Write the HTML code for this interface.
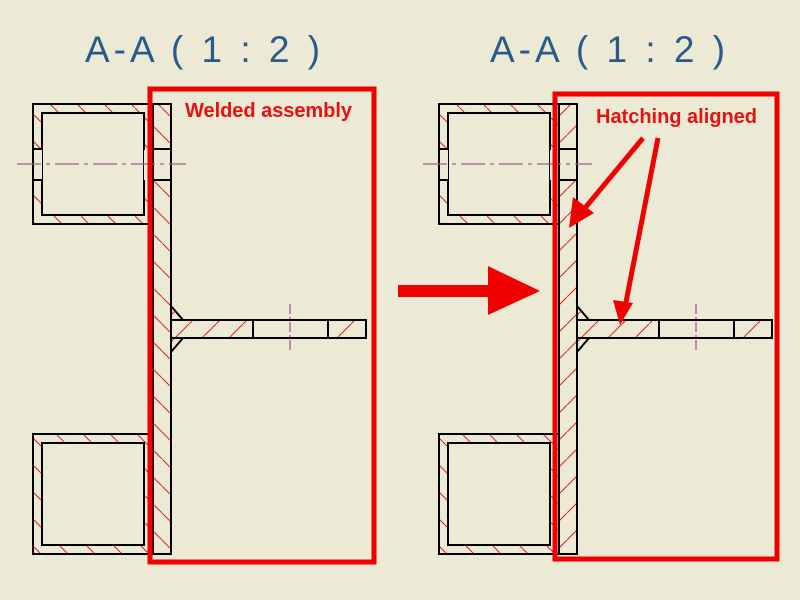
<!DOCTYPE html>
<html><head><meta charset="utf-8"><style>
html,body{margin:0;padding:0;background:#ecead5;}
svg{display:block}
</style></head><body>
<svg width="800" height="600" viewBox="0 0 800 600" xmlns="http://www.w3.org/2000/svg">
<defs>
<pattern id="hb" patternUnits="userSpaceOnUse" width="27" height="27">
<line x1="0" y1="0" x2="27" y2="27" stroke="#e02020" stroke-width="1"/>
</pattern>
<pattern id="hf" patternUnits="userSpaceOnUse" width="27" height="27">
<line x1="0" y1="27" x2="27" y2="0" stroke="#e02020" stroke-width="1"/>
</pattern>
<g id="view">
<path d="M33 104 H153 V224 H33 Z M42 113 V215 H144 V113 Z" fill="url(#hb)" fill-rule="evenodd"/>
<rect x="33" y="104" width="120" height="120" fill="none" stroke="#000" stroke-width="2"/>
<rect x="42" y="113" width="102" height="102" fill="none" stroke="#000" stroke-width="2"/>
<rect x="34" y="150" width="8" height="30" fill="#ecead5"/>
<rect x="144" y="150" width="8" height="30" fill="#ecead5"/>
<line x1="33" y1="149" x2="42" y2="149" stroke="#000" stroke-width="2"/>
<line x1="33" y1="180" x2="42" y2="180" stroke="#000" stroke-width="2"/>
<path d="M33 434 H153 V554 H33 Z M42 443 V545 H144 V443 Z" fill="url(#hb)" fill-rule="evenodd"/>
<rect x="33" y="434" width="120" height="120" fill="none" stroke="#000" stroke-width="2"/>
<rect x="42" y="443" width="102" height="102" fill="none" stroke="#000" stroke-width="2"/>
<path d="M171 306 L183 320 M171 352 L183 338" stroke="#000" stroke-width="2" fill="none"/>
<path d="M171 306 L183 320 L171 320 Z M171 352 L183 338 L171 338 Z" fill="url(#hf)"/>
<rect x="171" y="320" width="82" height="18" fill="url(#hf)"/>
<rect x="328" y="320" width="38" height="18" fill="url(#hf)"/>
<rect x="171" y="320" width="195" height="18" fill="none" stroke="#000" stroke-width="2"/>
<line x1="253" y1="320" x2="253" y2="338" stroke="#000" stroke-width="2"/>
<line x1="328" y1="320" x2="328" y2="338" stroke="#000" stroke-width="2"/>
<line x1="290" y1="304" x2="290" y2="353" stroke="#8a2a8a" stroke-width="1" stroke-dasharray="10,3,2,3"/>
</g>
</defs>

<text x="85" y="62" font-family="Liberation Sans, sans-serif" font-size="37" fill="#2a5a8a" letter-spacing="4">A-A ( 1 : 2 )</text>
<text x="490" y="62" font-family="Liberation Sans, sans-serif" font-size="37" fill="#2a5a8a" letter-spacing="4">A-A ( 1 : 2 )</text>

<use href="#view"/>
<rect x="153" y="104" width="18" height="450" fill="url(#hb)"/>
<rect x="153" y="104" width="18" height="450" fill="none" stroke="#000" stroke-width="2"/>
<line x1="153" y1="149" x2="171" y2="149" stroke="#000" stroke-width="2"/>
<line x1="153" y1="180" x2="171" y2="180" stroke="#000" stroke-width="2"/>

<g transform="translate(406,0)"><use href="#view"/></g>
<rect x="559" y="104" width="18" height="450" fill="url(#hf)"/>
<rect x="559" y="104" width="18" height="450" fill="none" stroke="#000" stroke-width="2"/>
<line x1="559" y1="149" x2="577" y2="149" stroke="#000" stroke-width="2"/>
<line x1="559" y1="180" x2="577" y2="180" stroke="#000" stroke-width="2"/>
<rect x="560" y="150" width="16" height="29" fill="#ecead5"/>
<rect x="154" y="150" width="16" height="29" fill="#ecead5"/>
<line x1="17" y1="164" x2="186" y2="164" stroke="#a06090" stroke-width="1.3" stroke-dasharray="24,5,4,5"/>
<line x1="423" y1="164" x2="592" y2="164" stroke="#a06090" stroke-width="1.3" stroke-dasharray="24,5,4,5"/>

<rect x="150" y="89" width="224" height="473" fill="none" stroke="#f00000" stroke-width="5"/>
<rect x="555" y="94" width="222" height="465" fill="none" stroke="#f00000" stroke-width="5"/>
<text x="185" y="117" font-family="Liberation Sans, sans-serif" font-weight="bold" font-size="20" fill="#e81010" textLength="167">Welded assembly</text>
<text x="596" y="123" font-family="Liberation Sans, sans-serif" font-weight="bold" font-size="20" fill="#e81010" textLength="161">Hatching aligned</text>

<rect x="398" y="285" width="92" height="12" fill="#f00000"/>
<polygon points="488,266 540,291 488,315" fill="#f00000"/>

<line x1="643" y1="138" x2="585" y2="208" stroke="#f00000" stroke-width="5"/>
<polygon points="569,228 573,197 594,213" fill="#f00000"/>
<line x1="658" y1="138" x2="626" y2="302" stroke="#f00000" stroke-width="5"/>
<polygon points="620,325 613,300 633,303" fill="#f00000"/>
</svg>
</body></html>
